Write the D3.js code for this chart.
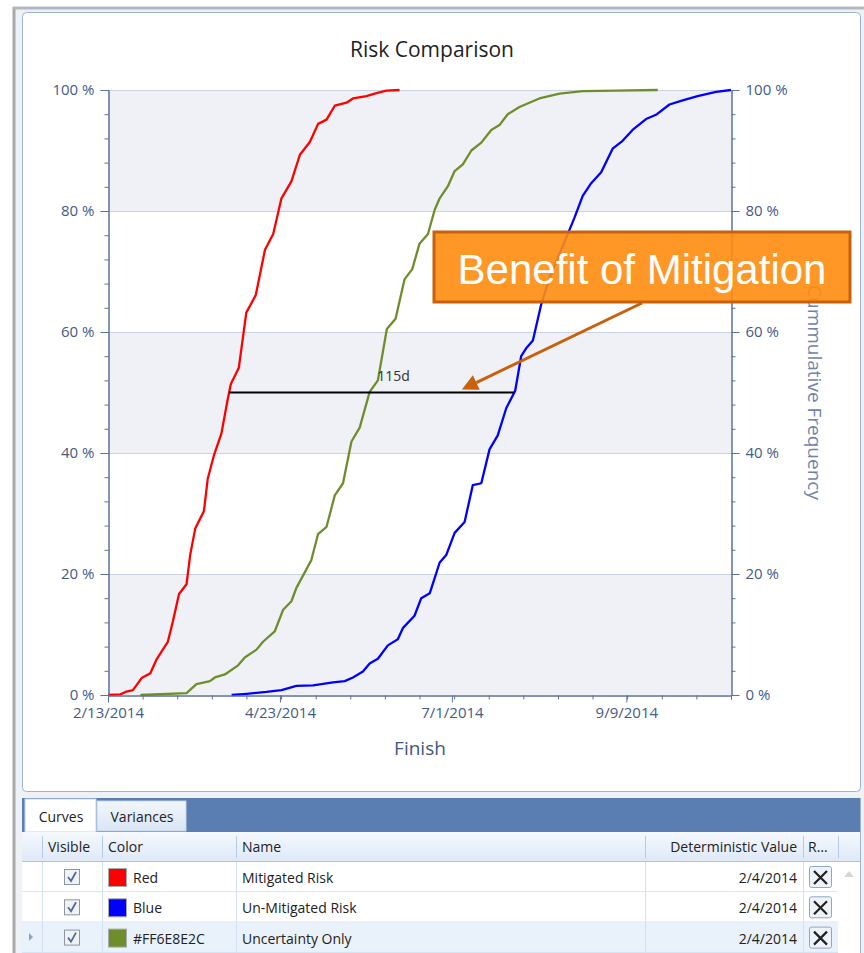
<!DOCTYPE html>
<html>
<head>
<meta charset="utf-8">
<script src="https://cdn.jsdelivr.net/npm/d3@7"></script>
<style>
  body { margin: 0; background: #fff; }
  text { font-family: "Open Sans", "Noto Sans", sans-serif; }
</style>
</head>
<body>
<script>
// Chart size
var width = 864;
var height = 953;

// Curves: [days after 2/13/2014, cumulative %]
var mitigatedRisk = [[0,0],[5,0.1],[7,0.5],[10,0.8],[13.5,2.8],[17,3.6],[19.5,5.9],[24,8.8],[26,12.1],[28.5,16.7],[31.5,18.3],[33,23.2],[35,27.5],[38.5,30.4],[40,35.7],[42.5,39.6],[45.5,43.2],[48,48.8],[49.3,51.4],[52.5,54.1],[55.5,63.2],[59.3,66.1],[63,73.6],[66.3,76.2],[69.6,82.1],[73.6,84.9],[77,89.3],[81,91.4],[84.3,94.4],[87.7,95.1],[91,97.4],[95.7,97.9],[98.3,98.6],[103.7,99],[107.7,99.5],[111.7,99.9],[117,100]];
var uncertaintyOnly = [[13,0],[31.5,0.3],[35.5,1.8],[40.9,2.3],[42.9,2.9],[46.9,3.4],[52.2,4.9],[54.9,6.2],[59.6,7.5],[62.2,8.8],[66.9,10.5],[70.3,14.1],[73.6,15.5],[75.6,17.7],[81.6,22.3],[84.3,26.6],[87.7,27.8],[91,33],[94.3,35],[97.7,41.9],[101,44.2],[105,50.1],[108.3,52],[111.9,60.5],[115.4,62.2],[119,68.7],[122.1,70.4],[125,74.6],[128.4,76.2],[131.1,80.2],[133.1,82.1],[136.4,84.1],[139.1,86.6],[142.4,87.7],[145.8,90],[149.8,91.3],[153.8,93.4],[157.1,94.2],[160.4,96],[165.1,97.2],[173.1,98.6],[181.2,99.4],[190.5,99.8],[203.9,99.9],[220.6,100]];
var unmitigatedRisk = [[49.6,0],[55.6,0.2],[63.6,0.5],[69.6,0.8],[75.6,1.5],[82.3,1.6],[90.3,2.1],[95,2.3],[98.3,2.9],[102.3,3.9],[105,5.2],[108.3,6],[112.3,8.2],[116.3,9.2],[118.4,11.1],[123,13.1],[125.7,16],[129.1,16.8],[133.1,21.9],[135.8,23.2],[139.1,26.8],[143.1,28.6],[146.4,34.7],[149.8,35],[153.1,40.6],[156.4,42.9],[159.8,47.4],[163.4,50.3],[165.8,56],[167.8,57.3],[170.5,58.6],[173.8,64.5],[177.2,69],[183.9,75.6],[187.2,78.9],[190.5,82.5],[193.9,84.6],[197.9,86.4],[202.5,90.3],[206.5,91.6],[210.5,93.4],[215.9,95.2],[219.9,95.9],[225.3,97.6],[230.6,98.3],[236.6,99],[244,99.7],[250,100]];

var startDate = "2/13/2014";
var spanDays = 250;
var xTickDates = ["2/13/2014", "4/23/2014", "7/1/2014", "9/9/2014"];
var yTicks = [0, 20, 40, 60, 80, 100];
var measureLevel = 50;
var measureLabel = "115d";
var calloutText = "Benefit of Mitigation";

// Table rows
var curveNames = ["Red", "Blue", "#FF6E8E2C"];
var curveColors = ["#ff0000", "#0000ff", "#6e8e2c"];
var curveLabels = ["Mitigated Risk", "Un-Mitigated Risk", "Uncertainty Only"];
var deterministicValues = ["2/4/2014", "2/4/2014", "2/4/2014"];
var curveSeries = [mitigatedRisk, unmitigatedRisk, uncertaintyOnly];

var parseDate = d3.timeParse("%m/%d/%Y");
var t0 = parseDate(startDate);
function dayToDate(d) { return new Date(t0.getTime() + d * 864e5); }

var svg = d3.select("body").append("svg")
  .attr("width", width)
  .attr("height", height);

// Window frame
svg.append("rect").attr("x", 13).attr("y", 7).attr("width", width - 13).attr("height", height - 7)
  .attr("fill", "#eef1f5");
svg.append("line").attr("x1", 14).attr("x2", 14).attr("y1", 7).attr("y2", height)
  .attr("stroke", "#a9a9a9").attr("stroke-width", 3);
svg.append("line").attr("x1", 13).attr("x2", width).attr("y1", 8).attr("y2", 8)
  .attr("stroke", "#b4b8be").attr("stroke-width", 3);

// Chart panel
svg.append("rect").attr("x", 22.5).attr("y", 12.5).attr("width", 838).attr("height", 779).attr("rx", 4)
  .attr("fill", "#fff").attr("stroke", "#9db3d0");

// Scales
var x = d3.scaleTime()
  .domain([t0, dayToDate(spanDays)])
  .range([108, 731]);
var y = d3.scaleLinear()
  .domain([0, 100])
  .range([695, 90]);

var plot = svg.append("g");

// Alternating bands
for (var i = 0; i < yTicks.length - 1; i += 2) {
  plot.append("rect")
    .attr("x", x.range()[0]).attr("width", x.range()[1] - x.range()[0])
    .attr("y", y(yTicks[i + 1])).attr("height", y(yTicks[i]) - y(yTicks[i + 1]))
    .attr("fill", "#eff1f6");
}
// Gridlines
plot.selectAll("line.grid").data(yTicks.slice(1)).enter().append("line")
  .attr("class", "grid")
  .attr("x1", x.range()[0]).attr("x2", x.range()[1])
  .attr("y1", function (d) { return y(d) + 0.5; }).attr("y2", function (d) { return y(d) + 0.5; })
  .attr("stroke", "#c9d3e1").attr("stroke-width", 1.2);

var axisColor = "#5b729a";
var labelColor = "#435b87";

function styleAxis(g) {
  g.selectAll("path, line").attr("stroke", axisColor);
  g.selectAll("text").attr("fill", labelColor).style("font-size", "15px")
    .style("font-family", "'Open Sans', sans-serif");
}

var pctFmt = function (d) { return d + " %"; };
var minorY = d3.range(0, 101, 4);

// Left axis
svg.append("g").attr("transform", "translate(108.5,0)")
  .call(d3.axisLeft(y).tickValues(minorY).tickSize(4).tickFormat(""))
  .call(styleAxis);
svg.append("g").attr("transform", "translate(108.5,0)")
  .call(d3.axisLeft(y).tickValues(yTicks).tickSize(8).tickSizeOuter(0).tickPadding(6).tickFormat(pctFmt))
  .call(styleAxis);

// Right axis
svg.append("g").attr("transform", "translate(731.5,0)")
  .call(d3.axisRight(y).tickValues(minorY).tickSize(4).tickFormat(""))
  .call(styleAxis);
svg.append("g").attr("transform", "translate(731.5,0)")
  .call(d3.axisRight(y).tickValues(yTicks).tickSize(8).tickSizeOuter(0).tickPadding(6).tickFormat(pctFmt))
  .call(styleAxis);

// Bottom axis
var majorX = xTickDates.map(parseDate);
var minorX = d3.range(0, spanDays + 1, spanDays / 18).map(dayToDate);
svg.append("g").attr("transform", "translate(0,695.5)")
  .call(d3.axisBottom(x).tickValues(minorX).tickSize(4).tickFormat(""))
  .call(styleAxis);
svg.append("g").attr("transform", "translate(0,695.5)")
  .call(d3.axisBottom(x).tickValues(majorX).tickSize(7).tickSizeOuter(0).tickPadding(5)
    .tickFormat(d3.timeFormat("%-m/%-d/%Y")))
  .call(styleAxis);

// Curves
var line = d3.line()
  .x(function (d) { return x(dayToDate(d[0])); })
  .y(function (d) { return y(d[1]); });

plot.selectAll("path.curve").data(curveSeries).enter().append("path")
  .attr("class", "curve")
  .attr("d", line)
  .attr("fill", "none")
  .attr("stroke", function (d, i) { return curveColors[i]; })
  .attr("stroke-width", 2.3)
  .attr("stroke-linejoin", "round");

// Where a curve crosses a level
function crossing(series, level) {
  for (var i = 1; i < series.length; i++) {
    var a = series[i - 1], b = series[i];
    if (a[1] <= level && b[1] >= level) {
      return a[0] + (b[0] - a[0]) * (level - a[1]) / (b[1] - a[1]);
    }
  }
  return series[series.length - 1][0];
}

var d1 = crossing(mitigatedRisk, measureLevel);
var d2 = crossing(unmitigatedRisk, measureLevel);
svg.append("line")
  .attr("x1", x(dayToDate(d1))).attr("x2", x(dayToDate(d2)))
  .attr("y1", y(measureLevel)).attr("y2", y(measureLevel))
  .attr("stroke", "#000").attr("stroke-width", 2);
svg.append("text")
  .attr("x", x(dayToDate(d1 + 66))).attr("y", y(measureLevel) - 12)
  .attr("text-anchor", "middle")
  .style("font-size", "14px").attr("fill", "#333")
  .text(measureLabel);

// Axis titles
svg.append("text")
  .attr("x", 432).attr("y", 57)
  .attr("text-anchor", "middle")
  .style("font-size", "21px").attr("fill", "#1f1f1f")
  .text("Risk Comparison");
svg.append("text")
  .attr("x", 420).attr("y", 755)
  .attr("text-anchor", "middle")
  .style("font-size", "19px").attr("fill", "#3f5683")
  .text("Finish");
svg.append("text")
  .attr("transform", "translate(808," + y(50) + ") rotate(90)")
  .attr("text-anchor", "middle")
  .style("font-size", "19px").attr("fill", "#7084a9")
  .text("Cummulative Frequency");

// Callout
var arrowTip = [x(dayToDate(142)), y(measureLevel) - 3];
var arrowStart = [642, 303];
svg.append("rect")
  .attr("x", 434).attr("y", 232).attr("width", 416).attr("height", 70)
  .attr("fill", "#ff8c10").attr("fill-opacity", 0.9)
  .attr("stroke", "#c8600c").attr("stroke-width", 3);
svg.append("text")
  .attr("x", 642).attr("y", 284)
  .attr("text-anchor", "middle")
  .style("font-family", "'Liberation Sans', Arial, sans-serif")
  .style("font-size", "42px").attr("fill", "#fff")
  .text(calloutText);

var dx = arrowTip[0] - arrowStart[0], dy = arrowTip[1] - arrowStart[1];
var len = Math.sqrt(dx * dx + dy * dy);
var ux = dx / len, uy = dy / len;
var headLen = 16, headW = 8;
var bx = arrowTip[0] - ux * headLen, by = arrowTip[1] - uy * headLen;
svg.append("line")
  .attr("x1", arrowStart[0]).attr("y1", arrowStart[1])
  .attr("x2", bx).attr("y2", by)
  .attr("stroke", "#c8600c").attr("stroke-width", 3);
svg.append("path")
  .attr("d", "M" + arrowTip[0] + "," + arrowTip[1] +
    "L" + (bx - uy * headW) + "," + (by + ux * headW) +
    "L" + (bx + uy * headW) + "," + (by - ux * headW) + "Z")
  .attr("fill", "#c8600c");

// ---- Bottom grid panel ----
svg.append("rect").attr("x", 22).attr("y", 798).attr("width", 838).attr("height", 34)
  .attr("fill", "#5a7eb1");
// tabs
svg.append("rect").attr("x", 25).attr("y", 799).attr("width", 71).attr("height", 33)
  .attr("fill", "#fff").attr("stroke", "#c7d6ea");
var tabGrad = svg.append("defs").append("linearGradient").attr("id", "tabGrad")
  .attr("x1", 0).attr("x2", 0).attr("y1", 0).attr("y2", 1);
tabGrad.append("stop").attr("offset", 0).attr("stop-color", "#f3f7fc");
tabGrad.append("stop").attr("offset", 1).attr("stop-color", "#d9e5f4");
svg.append("rect").attr("x", 97).attr("y", 801).attr("width", 89).attr("height", 30)
  .attr("fill", "url(#tabGrad)").attr("stroke", "#c1d2e8");
svg.append("text").attr("x", 61).attr("y", 822).attr("text-anchor", "middle")
  .style("font-size", "14px").attr("fill", "#222").text("Curves");
svg.append("text").attr("x", 142).attr("y", 822).attr("text-anchor", "middle")
  .style("font-size", "14px").attr("fill", "#222").text("Variances");

// table body
svg.append("rect").attr("x", 22).attr("y", 832).attr("width", 838).attr("height", 121)
  .attr("fill", "#fff");
var hdrGrad = svg.select("defs").append("linearGradient").attr("id", "hdrGrad")
  .attr("x1", 0).attr("x2", 0).attr("y1", 0).attr("y2", 1);
hdrGrad.append("stop").attr("offset", 0).attr("stop-color", "#f5f9fe");
hdrGrad.append("stop").attr("offset", 1).attr("stop-color", "#dde8f6");
svg.append("rect").attr("x", 22).attr("y", 832).attr("width", 838).attr("height", 30)
  .attr("fill", "url(#hdrGrad)");
svg.append("line").attr("x1", 22).attr("x2", 860).attr("y1", 861.5).attr("y2", 861.5)
  .attr("stroke", "#a9c3e3");

var colEdges = [42, 102, 236, 645, 803, 838];
colEdges.forEach(function (cx) {
  svg.append("line").attr("x1", cx + 0.5).attr("x2", cx + 0.5).attr("y1", 836).attr("y2", 858)
    .attr("stroke", "#b3cbe8");
});
var hdrStyle = function (t) { t.style("font-size", "14px").attr("fill", "#222"); };
svg.append("text").attr("x", 48).attr("y", 852).text("Visible").call(hdrStyle);
svg.append("text").attr("x", 108).attr("y", 852).text("Color").call(hdrStyle);
svg.append("text").attr("x", 242).attr("y", 852).text("Name").call(hdrStyle);
svg.append("text").attr("x", 797).attr("y", 852).attr("text-anchor", "end").text("Deterministic Value").call(hdrStyle);
svg.append("text").attr("x", 808).attr("y", 852).text("R…").call(hdrStyle);

var rowH = 30.3;
var rows = svg.selectAll("g.row").data(curveNames).enter().append("g")
  .attr("class", "row")
  .attr("transform", function (d, i) { return "translate(0," + (862 + i * rowH) + ")"; });

rows.append("rect").attr("x", 22).attr("width", 816).attr("height", rowH)
  .attr("fill", function (d, i) { return i === 2 ? "#e9f1fb" : "#fff"; });
rows.append("line").attr("x1", 22).attr("x2", 838).attr("y1", rowH - 0.5).attr("y2", rowH - 0.5)
  .attr("stroke", "#d3e1f2");
colEdges.forEach(function (cx) {
  rows.append("line").attr("x1", cx + 0.5).attr("x2", cx + 0.5).attr("y1", 0).attr("y2", rowH)
    .attr("stroke", "#d3e1f2");
});
// checkbox
rows.append("rect").attr("x", 64.5).attr("y", 7.5).attr("width", 15).attr("height", 15)
  .attr("fill", "#f1f2f4").attr("stroke", "#8d96a3");
rows.append("path").attr("d", "M68,15 L71,19 L76,10")
  .attr("fill", "none").attr("stroke", "#4f6d9c").attr("stroke-width", 1.8);
// swatch
rows.append("rect").attr("x", 108.5).attr("y", 6.5).attr("width", 18).attr("height", 18)
  .attr("fill", function (d, i) { return curveColors[i]; }).attr("stroke", "#aaa");
rows.append("text").attr("x", 133).attr("y", 21).text(function (d) { return d; }).call(hdrStyle);
rows.append("text").attr("x", 242).attr("y", 21).text(function (d, i) { return curveLabels[i]; }).call(hdrStyle);
rows.append("text").attr("x", 797).attr("y", 21).attr("text-anchor", "end")
  .text(function (d, i) { return deterministicValues[i]; }).call(hdrStyle);
// delete button
rows.append("rect").attr("x", 809.5).attr("y", 4.5).attr("width", 22).attr("height", 21).attr("rx", 2)
  .attr("fill", "#eef3fa").attr("stroke", "#8fa6c4");
rows.append("path").attr("d", "M814,9 L827,22 M827,9 L814,22")
  .attr("stroke", "#222").attr("stroke-width", 2.2);
// current row marker
svg.append("path").attr("d", "M29,933 L33,937 L29,941 Z").attr("fill", "#8aa3c6");
// scrollbar
svg.append("rect").attr("x", 838).attr("y", 862).attr("width", 22).attr("height", 91).attr("fill", "#fff");
svg.append("path").attr("d", "M844,877 L849,871 L854,877 Z").attr("fill", "#d4d8de");
svg.append("line").attr("x1", 860.5).attr("x2", 860.5).attr("y1", 798).attr("y2", 953).attr("stroke", "#9db3d0");
</script>
</body>
</html>
